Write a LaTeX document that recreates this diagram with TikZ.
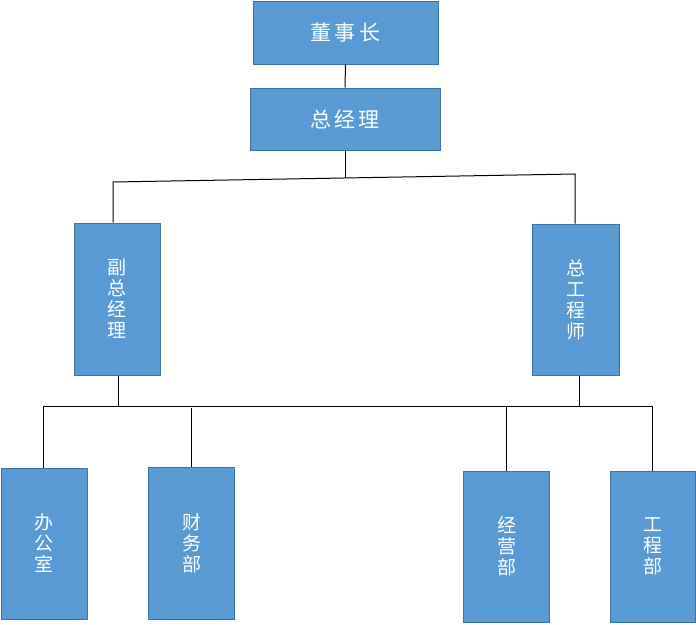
\documentclass[tikz,border=0pt]{standalone}
\usepackage{fontspec}
\newfontfamily\cjk{Noto Sans CJK SC}
\definecolor{boxfill}{HTML}{5B9BD5}
\definecolor{boxline}{HTML}{41719C}
\tikzset{
  orgbox/.style={draw=boxline, fill=boxfill, line width=1pt, text=white, inner sep=0pt, align=center},
  topbox/.style={orgbox, font=\cjk\fontsize{21}{24}\selectfont},
  vbox/.style={orgbox, font=\cjk\fontsize{19}{21}\selectfont, minimum width=86pt, minimum height=152pt},
  link/.style={line width=1pt, black}
}
\begin{document}
\begin{tikzpicture}[x=1pt,y=-1pt]
\useasboundingbox (0,0) rectangle (696,624);
% top
\node[topbox, minimum width=185pt, minimum height=63pt] (chair) at (345.5,32.5) {董\,事\,长};
\node[topbox, minimum width=190pt, minimum height=62pt] (gm) at (345,119) {总\,经\,理};
% second level
\node[vbox] (vgm) at (117,299) {副\\总\\经\\理};
\node[vbox, minimum width=87pt, minimum height=151pt] (ce) at (575.5,299.5) {总\\工\\程\\师};
% bottom level
\node[vbox, minimum height=151pt] (office) at (44,543.5) {办\\公\\室};
\node[vbox] (fin) at (191.5,543) {财\\务\\部};
\node[vbox, minimum height=151pt] (biz) at (506.5,546.5) {经\\营\\部};
\node[vbox, minimum width=85pt, minimum height=151pt] (eng) at (652.5,546.5) {工\\程\\部};
% connector coordinates
\coordinate (hl) at (113,182);
\coordinate (hr) at (575,174);
\coordinate (hm) at (345,178);
\coordinate (bl) at (43,406);
\coordinate (br) at (652,406);
\coordinate (bvgm) at (118,406);
\coordinate (bce) at (579,406);
\coordinate (bfin) at (191,408);
\coordinate (bbiz) at (506,406);
% connectors
\draw[link] (chair.south) -- (gm.north);
\draw[link] (gm.south) -- (hm);
\draw[link] (vgm.north -| hl) -- (hl) -- (hr) -- (ce.north -| hr);
\draw[link] (vgm.south -| bvgm) -- (bvgm);
\draw[link] (ce.south -| bce) -- (bce);
\draw[link] (office.north -| bl) -- (bl) -- (br) -- (eng.north -| br);
\draw[link] (bfin) -- (fin.north -| bfin);
\draw[link] (bbiz) -- (biz.north -| bbiz);
\end{tikzpicture}
\end{document}
